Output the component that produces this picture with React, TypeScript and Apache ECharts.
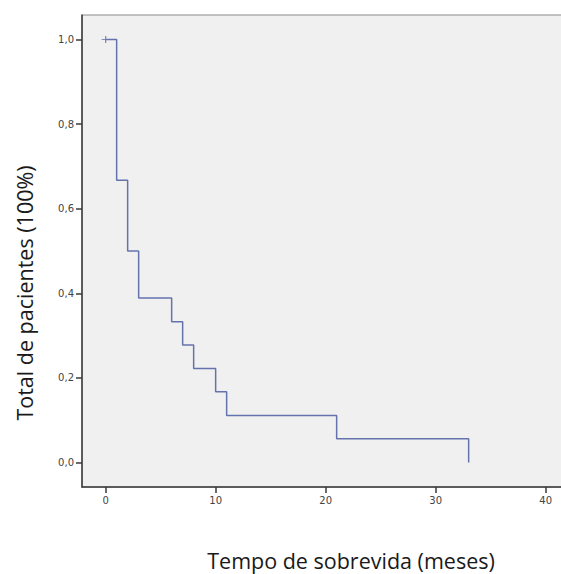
import React, { useEffect, useRef } from "react";
import * as echarts from "echarts";

const times = [0, 1, 2, 3, 6, 7, 8, 10, 11, 21, 33];
const survival = [1.0, 0.667, 0.5, 0.389, 0.333, 0.278, 0.222, 0.167, 0.111, 0.056, 0.0];
const censoredTimes = [0];
const censoredValues = [1.0];
const xTicks = [0, 10, 20, 30, 40];
const yTicks = [0, 0.2, 0.4, 0.6, 0.8, 1.0];
const xTitle = "Tempo de sobrevida (meses)";
const yTitle = "Total de pacientes (100%)";

const LINE = "#6573ad";

export default function App() {
  const ref = useRef<HTMLDivElement>(null);
  useEffect(() => {
    if (!ref.current) return;
    const chart = echarts.init(ref.current, null, { renderer: "svg" });
    chart.setOption({
      animation: false,
      backgroundColor: "#ffffff",
      grid: {
        left: 82,
        top: 15,
        width: 484,
        height: 472,
        containLabel: false,
        outerBoundsMode: "none",
        show: true,
        backgroundColor: "#f0f0f0",
        borderColor: "#8a8a8a",
        borderWidth: 1,
      },
      xAxis: {
        type: "value",
        min: -2.15,
        max: 41.85,
        splitLine: { show: false },
        axisLine: { show: true, onZero: false, lineStyle: { color: "#3a3a3a", width: 1.5 } },
        axisTick: { show: true, customValues: xTicks, length: 6, lineStyle: { color: "#3a3a3a", width: 1.5 } },
        axisLabel: {
          customValues: xTicks,
          margin: 8,
          color: "#444",
          fontFamily: "DejaVu Sans",
          fontSize: 10,
        },
      },
      yAxis: {
        type: "value",
        min: -0.058,
        max: 1.058,
        splitLine: { show: false },
        axisLine: { show: true, onZero: false, lineStyle: { color: "#3a3a3a", width: 1.5 } },
        axisTick: { show: true, customValues: yTicks, length: 6, lineStyle: { color: "#3a3a3a", width: 1.5 } },
        axisLabel: {
          customValues: yTicks,
          margin: 8,
          color: "#444",
          fontFamily: "DejaVu Sans",
          fontSize: 10,
          formatter: (v: number) => v.toFixed(1).replace(".", ","),
        },
      },
      graphic: [
        {
          type: "text",
          x: 351,
          y: 560,
          style: {
            text: xTitle,
            align: "center",
            verticalAlign: "middle",
            font: '21.5px "Open Sans"',
            fill: "#1a1a1a",
          },
        },
        {
          type: "text",
          x: 24,
          y: 293,
          rotation: Math.PI / 2,
          style: {
            text: yTitle,
            align: "center",
            verticalAlign: "middle",
            font: '21.5px "Open Sans"',
            fill: "#1a1a1a",
          },
        },
      ],
      series: [
        {
          type: "line",
          step: "end",
          data: times.map((t, i) => [t, survival[i]]),
          showSymbol: false,
          symbol: "none",
          lineStyle: { color: LINE, width: 1.5 },
        },
        {
          type: "scatter",
          data: censoredTimes.map((t, i) => [t, censoredValues[i]]),
          symbol: "path://M0,4L8,4M4,0L4,8",
          symbolSize: [8, 7],
          itemStyle: { color: "transparent", borderColor: LINE, borderWidth: 1.2 },
        },
      ],
    });
    return () => chart.dispose();
  }, []);
  return (
    <div
      ref={ref}
      style={{ position: "fixed", left: 0, top: 0, width: 561, height: 574 }}
    />
  );
}
